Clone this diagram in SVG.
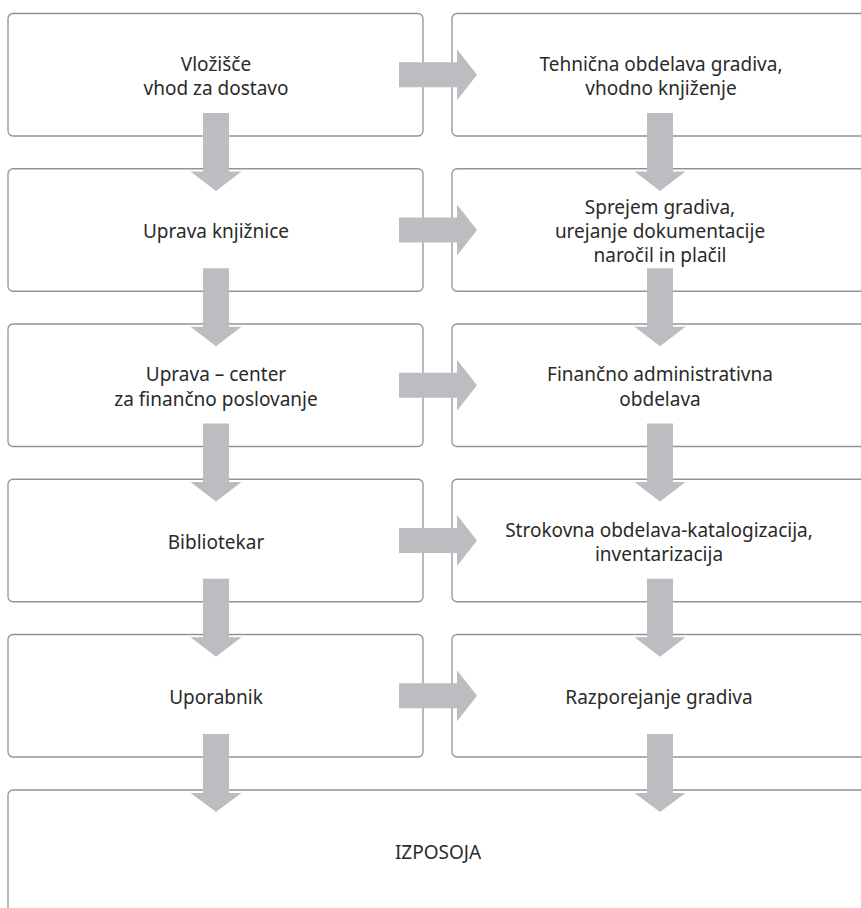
<svg xmlns="http://www.w3.org/2000/svg" width="861" height="908" viewBox="0 0 861 908">
<style>
.box{fill:#ffffff;stroke:#939393;stroke-width:1.3}
.lbl{font-family:"Noto Sans","Open Sans","DejaVu Sans",sans-serif;font-size:19px;fill:#2a2a2a;text-anchor:middle}
.arr{fill:#bcbdc0}
</style>
<rect width="861" height="908" fill="#ffffff"/>
<g id="n-vlozisce"><rect class="box" x="8" y="13.5" width="415" height="122.5" rx="5"/>
<text class="lbl" x="216" y="70.5"><tspan x="216">Vložišče</tspan><tspan x="216" dy="24.5">vhod za dostavo</tspan></text></g>
<g id="n-tehnicna"><rect class="box" x="452" y="13.5" width="418" height="122.5" rx="5"/>
<text class="lbl" x="661" y="70.5"><tspan x="661">Tehnična obdelava gradiva,</tspan><tspan x="661" dy="24.5">vhodno knjiženje</tspan></text></g>
<g id="n-uprava"><rect class="box" x="8" y="168.75" width="415" height="122.5" rx="5"/>
<text class="lbl" x="216" y="238.3">Uprava knjižnice</text></g>
<g id="n-sprejem"><rect class="box" x="452" y="168.75" width="418" height="122.5" rx="5"/>
<text class="lbl" x="660" y="214"><tspan x="660">Sprejem gradiva,</tspan><tspan x="660" dy="24.2">urejanje dokumentacije</tspan><tspan x="660" dy="24.2">naročil in plačil</tspan></text></g>
<g id="n-center"><rect class="box" x="8" y="324" width="415" height="122.5" rx="5"/>
<text class="lbl" x="216" y="381"><tspan x="216">Uprava – center</tspan><tspan x="216" dy="24.5">za finančno poslovanje</tspan></text></g>
<g id="n-financno"><rect class="box" x="452" y="324" width="418" height="122.5" rx="5"/>
<text class="lbl" x="660" y="381"><tspan x="660">Finančno administrativna</tspan><tspan x="660" dy="24.5">obdelava</tspan></text></g>
<g id="n-bibliotekar"><rect class="box" x="8" y="479.25" width="415" height="122.5" rx="5"/>
<text class="lbl" x="216" y="548.8">Bibliotekar</text></g>
<g id="n-strokovna"><rect class="box" x="452" y="479.25" width="418" height="122.5" rx="5"/>
<text class="lbl" x="659" y="536.5"><tspan x="659">Strokovna obdelava-katalogizacija,</tspan><tspan x="659" dy="24">inventarizacija</tspan></text></g>
<g id="n-uporabnik"><rect class="box" x="8" y="634.5" width="415" height="122.5" rx="5"/>
<text class="lbl" x="216" y="704">Uporabnik</text></g>
<g id="n-razporejanje"><rect class="box" x="452" y="634.5" width="418" height="122.5" rx="5"/>
<text class="lbl" x="659" y="704">Razporejanje gradiva</text></g>
<g id="n-izposoja"><rect class="box" x="8" y="790" width="860" height="200" rx="5"/>
<text class="lbl" x="438" y="858.7">IZPOSOJA</text></g>
<g id="connectors">
<g id="h-arrows">
<path class="arr" d="M399,62.25 H457 V49.25 L477,74.75 L457,100.25 V87.25 H399 Z"/>
<path class="arr" d="M399,217.5 H457 V204.5 L477,230 L457,255.5 V242.5 H399 Z"/>
<path class="arr" d="M399,372.75 H457 V359.75 L477,385.25 L457,410.75 V397.75 H399 Z"/>
<path class="arr" d="M399,528 H457 V515 L477,540.5 L457,566 V553 H399 Z"/>
<path class="arr" d="M399,683.25 H457 V670.25 L477,695.75 L457,721.25 V708.25 H399 Z"/>
</g>
<g id="v-arrows-left">
<path class="arr" d="M203,113 H229 V171.5 H241.5 L216,191 L190.5,171.5 H203 Z"/>
<path class="arr" d="M203,268.25 H229 V326.75 H241.5 L216,346.25 L190.5,326.75 H203 Z"/>
<path class="arr" d="M203,423.5 H229 V482 H241.5 L216,501.5 L190.5,482 H203 Z"/>
<path class="arr" d="M203,578.75 H229 V637.25 H241.5 L216,656.75 L190.5,637.25 H203 Z"/>
<path class="arr" d="M203,734 H229 V793 H241.5 L216,812 L190.5,793 H203 Z"/>
</g>
<g id="v-arrows-right">
<path class="arr" d="M647,113 H673 V171.5 H685.5 L660,191 L634.5,171.5 H647 Z"/>
<path class="arr" d="M647,268.25 H673 V326.75 H685.5 L660,346.25 L634.5,326.75 H647 Z"/>
<path class="arr" d="M647,423.5 H673 V482 H685.5 L660,501.5 L634.5,482 H647 Z"/>
<path class="arr" d="M647,578.75 H673 V637.25 H685.5 L660,656.75 L634.5,637.25 H647 Z"/>
<path class="arr" d="M647,734 H673 V793 H685.5 L660,812 L634.5,793 H647 Z"/>
</g>
</g>
</svg>
